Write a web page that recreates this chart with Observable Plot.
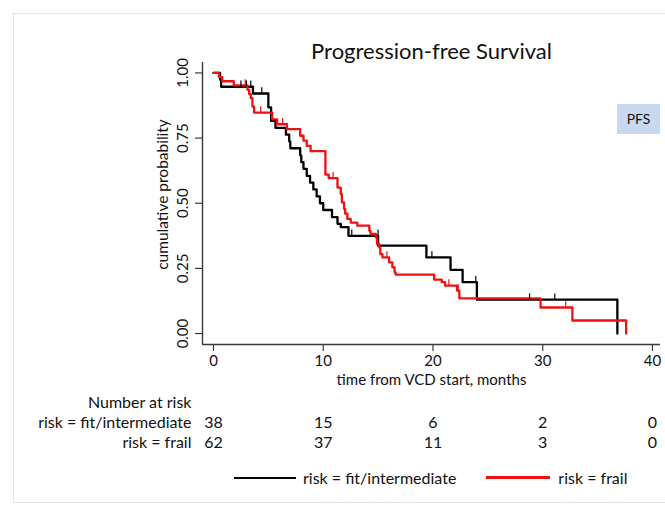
<!DOCTYPE html>
<html><head><meta charset="utf-8">
<script src="https://cdn.jsdelivr.net/npm/d3@7"></script>
<script src="https://cdn.jsdelivr.net/npm/@observablehq/plot@0.6"></script>
<style>
html,body{margin:0;padding:0;background:#fff;}
#wrap{position:relative;width:665px;height:508px;overflow:hidden;font-family:Lato,"Open Sans",sans-serif;color:#111;}
#border{position:absolute;left:13px;top:13px;width:670px;height:488px;border:1px solid #e4e4e4;}
#chart{position:absolute;left:0;top:0;}
#pfs{position:absolute;left:617px;top:104px;width:43px;height:30px;background:#c6d9f0;font-size:14px;line-height:30px;text-align:center;color:#111;}
#legend{position:absolute;top:468px;left:234px;display:flex;align-items:center;font-size:16px;white-space:nowrap;}
#legend .sw{height:2px;}
</style></head>
<body><div id="wrap"><div id="border"></div><div id="chart"></div><div id="pfs">PFS</div><div id="legend"></div></div>
<script>
// ---- data ----
const titleText = "Progression-free Survival";
const seriesNames = ["risk = fit/intermediate", "risk = frail"];
const seriesColors = ["#000000", "#ee1111"];

const fitTime = [0, 0.6, 0.7, 3.6, 5.0, 5.25, 5.65, 6.6, 6.9, 7.0, 7.9, 8.0, 8.2, 8.5, 8.8, 9.1, 9.4, 9.7, 10.0, 10.8, 11.3, 11.6, 12.3, 15.0, 19.4, 21.6, 22.7, 24.0, 36.8];
const fitSurv = [1, 0.974, 0.947, 0.921, 0.868, 0.816, 0.789, 0.763, 0.737, 0.711, 0.684, 0.658, 0.632, 0.605, 0.579, 0.553, 0.526, 0.50, 0.474, 0.447, 0.421, 0.408, 0.375, 0.337, 0.292, 0.244, 0.197, 0.13, 0];
const fitCensorTime = [2.5, 3.0, 3.4, 4.4, 12.6, 15.0, 19.9, 23.9, 28.8, 31.1];
const fitCensorSurv = [0.947, 0.947, 0.947, 0.921, 0.375, 0.375, 0.292, 0.197, 0.13, 0.13];

const frailTime = [0, 0.5, 0.8, 1.85, 3.1, 3.25, 3.4, 3.55, 3.7, 5.35, 5.8, 6.7, 7.9, 8.2, 8.5, 8.85, 10.2, 10.5, 11.3, 11.6, 11.7, 11.9, 12.0, 12.2, 12.5, 13.1, 14.2, 14.3, 14.8, 14.9, 15.1, 15.2, 15.4, 16.0, 16.3, 16.5, 16.6, 20.1, 20.8, 21.1, 22.2, 22.4, 29.8, 32.7, 37.6];
const frailSurv = [1, 0.984, 0.968, 0.952, 0.935, 0.919, 0.903, 0.871, 0.848, 0.822, 0.803, 0.784, 0.759, 0.74, 0.72, 0.70, 0.61, 0.596, 0.56, 0.535, 0.503, 0.478, 0.46, 0.44, 0.426, 0.414, 0.395, 0.382, 0.369, 0.344, 0.33, 0.305, 0.292, 0.273, 0.254, 0.235, 0.226, 0.207, 0.197, 0.184, 0.165, 0.135, 0.10, 0.05, 0];
const frailCensorTime = [2.9, 4.3, 6.3, 10.9, 15.8, 21.45, 22.3, 32.1];
const frailCensorSurv = [0.952, 0.848, 0.803, 0.596, 0.292, 0.184, 0.165, 0.10];

const riskTimes = [0, 10, 20, 30, 40];
const riskFit = [38, 15, 6, 2, 0];
const riskFrail = [62, 37, 11, 3, 0];

const xTicks = [0, 10, 20, 30, 40];
const yTicks = [0, 0.25, 0.5, 0.75, 1];
const yTickLabels = ["0.00", "0.25", "0.50", "0.75", "1.00"];
const xLabel = "time from VCD start, months";
const yLabel = "cumulative probability";
const riskHeader = "Number at risk";

// ---- build tables ----
const xDomain = [-1.0, 40.73];
const yDomain = [-0.042, 1.04];
const curves = [
  ...fitTime.map((t, i) => ({t, s: fitSurv[i], g: seriesNames[0]})),
  ...frailTime.map((t, i) => ({t, s: frailSurv[i], g: seriesNames[1]}))
];
const censors = [
  ...fitCensorTime.map((t, i) => ({t, s: fitCensorSurv[i], g: seriesNames[0]})),
  ...frailCensorTime.map((t, i) => ({t, s: frailCensorSurv[i], g: seriesNames[1]}))
];
const riskRows = [
  ...riskTimes.map((t, i) => ({t, n: riskFit[i], row: 0})),
  ...riskTimes.map((t, i) => ({t, n: riskFrail[i], row: 1}))
];
const axisColor = "#3a3a3a";
const colorOf = g => seriesColors[seriesNames.indexOf(g)];

const chart = Plot.plot({
  width: 665, height: 470,
  marginTop: 62, marginLeft: 202, marginRight: 5, marginBottom: 126,
  x: {domain: xDomain},
  y: {domain: yDomain},
  style: {fontFamily: "Lato, 'Open Sans', sans-serif", background: "transparent", color: "#111", overflow: "visible"},
  marks: [
    Plot.ruleX([xDomain[0]], {stroke: axisColor, strokeWidth: 1.4}),
    Plot.ruleY([yDomain[0]], {stroke: axisColor, strokeWidth: 1.4}),
    Plot.axisX({ticks: xTicks, tickSize: 7, tickFormat: () => "", stroke: axisColor, strokeWidth: 1.2, label: null}),
    Plot.text(xTicks, {x: d => d, text: d => String(d), frameAnchor: "bottom", textAnchor: "middle", dy: 21, fontSize: 15, fill: "#111"}),
    Plot.axisY({ticks: yTicks, tickSize: 7, stroke: axisColor, strokeWidth: 1.2, label: null, tickFormat: () => ""}),
    Plot.text(yTicks.map((v, i) => ({v, l: yTickLabels[i]})), {y: "v", text: "l", frameAnchor: "left", textAnchor: "middle", dx: -19, rotate: -90, fontSize: 15, fill: "#111"}),
    Plot.text([yLabel], {frameAnchor: "left", textAnchor: "middle", dx: -39, dy: -9, rotate: -90, fontSize: 15.5, fill: "#111"}),
    Plot.text([xLabel], {frameAnchor: "bottom", textAnchor: "middle", dy: 40, fontSize: 15, fill: "#111"}),
    Plot.text([titleText], {frameAnchor: "top", textAnchor: "middle", dy: -19, fontSize: 22, fill: "#111"}),
    Plot.line(curves, {x: "t", y: "s", z: "g", stroke: d => colorOf(d.g), strokeWidth: 2.3, curve: "step-after"}),
    Plot.ruleX(censors, {x: "t", y1: "s", y2: d => d.s + 0.022, stroke: d => colorOf(d.g), strokeWidth: 1.2}),
    Plot.text([riskHeader], {frameAnchor: "bottom-left", textAnchor: "end", dx: -11, dy: 63, fontSize: 16, fill: "#111"}),
    Plot.text(riskRows, {x: "t", text: d => String(d.n), frameAnchor: "bottom", textAnchor: "middle", fontSize: 16, fill: "#111", filter: d => d.row === 0, dy: 83}),
    Plot.text(riskRows, {x: "t", text: d => String(d.n), frameAnchor: "bottom", textAnchor: "middle", fontSize: 16, fill: "#111", filter: d => d.row === 1, dy: 103}),
    Plot.text([seriesNames[0]], {frameAnchor: "bottom-left", textAnchor: "end", dx: -11, dy: 83, fontSize: 16, fill: "#111"}),
    Plot.text([seriesNames[1]], {frameAnchor: "bottom-left", textAnchor: "end", dx: -11, dy: 103, fontSize: 16, fill: "#111"})
  ]
});
document.getElementById("chart").appendChild(chart);

// legend
const legend = document.getElementById("legend");
seriesNames.forEach((name, i) => {
  const sw = document.createElement("div");
  sw.className = "sw";
  sw.style.width = (i === 0 ? 62 : 64) + "px";
  sw.style.background = seriesColors[i];
  sw.style.height = i === 0 ? "2px" : "2.5px";
  sw.style.marginRight = (i === 0 ? 7 : 8) + "px";
  if (i > 0) sw.style.marginLeft = "30px";
  const tx = document.createElement("span");
  tx.textContent = name;
  legend.appendChild(sw);
  legend.appendChild(tx);
});
</script>
</body></html>
